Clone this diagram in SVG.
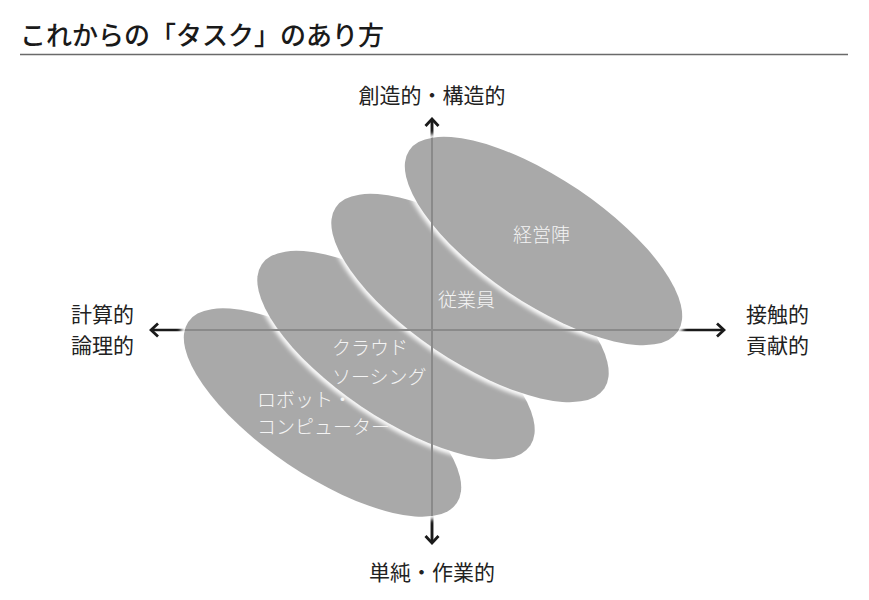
<svg xmlns="http://www.w3.org/2000/svg" width="869" height="600" viewBox="0 0 869 600">
<style>
.ell{fill:#a9a9a9}
.glow{fill:none;stroke:#ffffff;stroke-width:7;filter:url(#blur)}
.ax{stroke:#1a1a1a;stroke-width:2.5;fill:none}
.axg{stroke:#8a8a8a;stroke-width:2;fill:none}
.lbl{font-family:"Noto Sans CJK JP","Noto Sans",sans-serif;font-size:21px;fill:#222}
.in{font-family:"Noto Sans CJK JP","Noto Sans",sans-serif;font-size:19px;font-weight:300;fill:#f4f4f4}
.title{font-family:"Noto Sans CJK JP","Noto Sans",sans-serif;font-size:26px;font-weight:500;fill:#1a1a1a}
</style>
<defs>
<filter id="blur" x="-20%" y="-20%" width="140%" height="140%"><feGaussianBlur stdDeviation="2"/></filter>
<marker id="arr" viewBox="-10 -8 12 16" markerWidth="12" markerHeight="16" refX="0" refY="0" orient="auto" markerUnits="userSpaceOnUse">
<path d="M-7,-6.5 L0,0 L-7,6.5" fill="none" stroke="#1a1a1a" stroke-width="2.8"/>
</marker>
<clipPath id="ellclip">
<ellipse cx="0" cy="0" rx="162" ry="62" transform="translate(322.5,412.5) rotate(34)"/>
<ellipse cx="0" cy="0" rx="162" ry="62" transform="translate(396,355) rotate(34)"/>
<ellipse cx="0" cy="0" rx="162" ry="62" transform="translate(470,298) rotate(34)"/>
<ellipse cx="0" cy="0" rx="162" ry="62" transform="translate(543.5,241) rotate(34)"/>
</clipPath>
</defs>
<rect width="869" height="600" fill="#ffffff"/>
<g id="title">
<text class="title" x="20" y="45">これからの「タスク」のあり方</text>
<line x1="20" y1="54.5" x2="848" y2="54.5" stroke="#6a6a6a" stroke-width="1.5"/>
</g>
<g id="axes-black">
<line class="ax" x1="432" y1="540" x2="432" y2="119" marker-end="url(#arr)"/>
<line class="ax" x1="432" y1="120" x2="432" y2="543" marker-end="url(#arr)"/>
<line class="ax" x1="430" y1="330" x2="151" y2="330" marker-end="url(#arr)"/>
<line class="ax" x1="434" y1="330" x2="724" y2="330" marker-end="url(#arr)"/>
</g>
<g id="robot">
<ellipse class="glow" cx="0" cy="0" rx="162" ry="62" transform="translate(322.5,412.5) rotate(34)"/>
<ellipse class="ell" cx="0" cy="0" rx="162" ry="62" transform="translate(322.5,412.5) rotate(34)"/>
</g>
<g id="crowd">
<ellipse class="glow" cx="0" cy="0" rx="162" ry="62" transform="translate(396,355) rotate(34)"/>
<ellipse class="ell" cx="0" cy="0" rx="162" ry="62" transform="translate(396,355) rotate(34)"/>
</g>
<g id="employee">
<ellipse class="glow" cx="0" cy="0" rx="162" ry="62" transform="translate(470,298) rotate(34)"/>
<ellipse class="ell" cx="0" cy="0" rx="162" ry="62" transform="translate(470,298) rotate(34)"/>
</g>
<g id="management">
<ellipse class="glow" cx="0" cy="0" rx="162" ry="62" transform="translate(543.5,241) rotate(34)"/>
<ellipse class="ell" cx="0" cy="0" rx="162" ry="62" transform="translate(543.5,241) rotate(34)"/>
</g>
<g id="connectors" clip-path="url(#ellclip)">
<line class="axg" x1="432" y1="100" x2="432" y2="560"/>
<line class="axg" x1="140" y1="330" x2="740" y2="330"/>
</g>
<g id="inner-labels">
<text class="in" x="513" y="242">経営陣</text>
<text class="in" x="438" y="307">従業員</text>
<text class="in" x="332" y="355">クラウド</text>
<text class="in" x="332" y="384">ソーシング</text>
<text class="in" x="257" y="407">ロボット・</text>
<text class="in" x="257" y="434">コンピューター</text>
</g>
<g id="axis-labels">
<text class="lbl" x="432" y="103" text-anchor="middle">創造的・構造的</text>
<text class="lbl" x="432" y="580" text-anchor="middle">単純・作業的</text>
<text class="lbl" x="71" y="322">計算的</text>
<text class="lbl" x="71" y="353">論理的</text>
<text class="lbl" x="746" y="322">接触的</text>
<text class="lbl" x="746" y="353">貢献的</text>
</g>
</svg>
